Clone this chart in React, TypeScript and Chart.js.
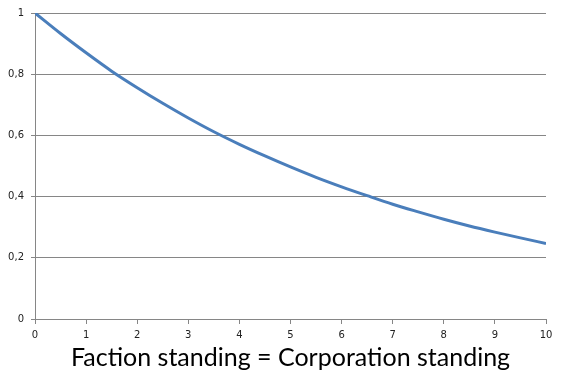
import React, { useEffect, useRef } from "react";
import { Chart, registerables } from "chart.js";

Chart.register(...registerables);

const xValues = [0, 0.5, 1, 1.5, 2, 2.5, 3, 3.5, 4, 4.5, 5, 5.5, 6, 6.5, 7, 7.5, 8, 8.5, 9, 9.5, 10];
const yValues = [1.0, 0.933, 0.87, 0.81, 0.756, 0.705, 0.657, 0.612, 0.571, 0.533, 0.497, 0.463, 0.432, 0.403, 0.375, 0.35, 0.326, 0.304, 0.284, 0.265, 0.247];
const xAxisTitle = "Faction standing = Corporation standing";

export default function App() {
  const ref = useRef<HTMLCanvasElement | null>(null);
  useEffect(() => {
    document.body.style.margin = "0";
    const canvas = ref.current!;
    const chart = new Chart(canvas, {
      type: "line",
      data: {
        datasets: [
          {
            data: xValues.map((x, i) => ({ x, y: yValues[i] })),
            borderColor: "#4a7ebb",
            borderWidth: 3,
            pointRadius: 0,
            cubicInterpolationMode: "monotone",
            fill: false,
          },
        ],
      },
      options: {
        animation: false,
        responsive: false,
        maintainAspectRatio: false,
        layout: { padding: { top: 13, right: 16, left: 0, bottom: 0 } },
        plugins: { legend: { display: false }, tooltip: { enabled: false } },
        scales: {
          x: {
            type: "linear",
            min: 0,
            max: 10,
            afterFit: (s: any) => { s.height = 60; },
            ticks: {
              stepSize: 1,
              color: "#222",
              font: { family: "DejaVu Sans", size: 10 },
              padding: 5,
              maxRotation: 0,
            },
            grid: { drawOnChartArea: false, drawTicks: true, tickLength: 5, color: "#868686" },
            border: { display: true, color: "#868686", width: 1 },
            title: {
              display: true,
              text: xAxisTitle,
              color: "#000",
              font: { family: "Lato", size: 25 },
              padding: { top: 0, bottom: 6 },
            },
          },
          y: {
            min: 0,
            max: 1,
            afterFit: (s: any) => { s.width = 35; },
            ticks: {
              stepSize: 0.2,
              color: "#222",
              font: { family: "DejaVu Sans", size: 10 },
              padding: 7,
              callback: (v: any) => String(Math.round(Number(v) * 10) / 10).replace(".", ","),
            },
            grid: { color: "#868686", tickLength: 4, drawTicks: true },
            border: { display: true, color: "#868686", width: 1 },
          },
        },
      },
    });
    return () => chart.destroy();
  }, []);
  return <canvas ref={ref} width={562} height={379} style={{ display: "block" }} />;
}
